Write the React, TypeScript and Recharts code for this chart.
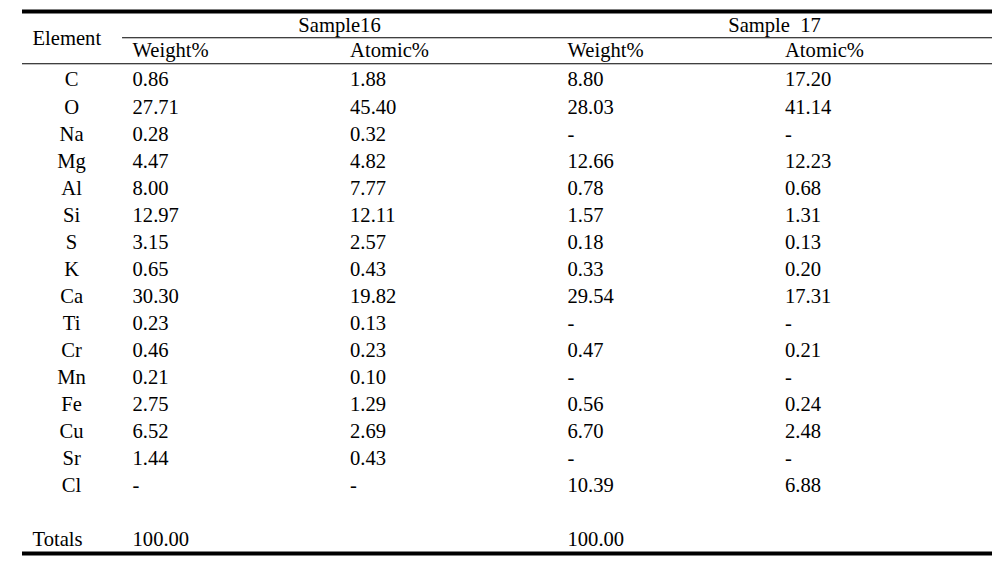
import { ScatterChart, Scatter, XAxis, YAxis, ReferenceLine } from 'recharts'

// table contents
const elements = ['C', 'O', 'Na', 'Mg', 'Al', 'Si', 'S', 'K', 'Ca', 'Ti', 'Cr', 'Mn', 'Fe', 'Cu', 'Sr', 'Cl']
const s16Weight = [0.86, 27.71, 0.28, 4.47, 8.0, 12.97, 3.15, 0.65, 30.3, 0.23, 0.46, 0.21, 2.75, 6.52, 1.44, null]
const s16Atomic = [1.88, 45.4, 0.32, 4.82, 7.77, 12.11, 2.57, 0.43, 19.82, 0.13, 0.23, 0.1, 1.29, 2.69, 0.43, null]
const s17Weight = [8.8, 28.03, null, 12.66, 0.78, 1.57, 0.18, 0.33, 29.54, null, 0.47, null, 0.56, 6.7, null, 10.39]
const s17Atomic = [17.2, 41.14, null, 12.23, 0.68, 1.31, 0.13, 0.2, 17.31, null, 0.21, null, 0.24, 2.48, null, 6.88]
const totals = [100.0, null, 100.0, null]

const samples = ['Sample16', 'Sample  17']
const subHeaders = ['Weight%', 'Atomic%', 'Weight%', 'Atomic%']
const elementHeader = 'Element'
const totalsLabel = 'Totals'

// x: column index (0..3 are value columns, element column sits left of 0)
// y: row index (0 = first element row)
const ELEMENT_X = -0.232
const LEFT_EDGE = -0.46
const TOTALS_ROW = elements.length + 1

type Cell = { x: number; y: number; text: string; anchor: 'start' | 'middle' }

const fmt = (v: number | null) => (v === null ? '-' : v.toFixed(2))

const valueColumns = [s16Weight, s16Atomic, s17Weight, s17Atomic]

const bodyCells: Cell[] = [
  ...elements.map((e, i) => ({ x: ELEMENT_X, y: i, text: e, anchor: 'middle' as const })),
  ...valueColumns.flatMap((col, c) =>
    col.map((v, i) => ({ x: c, y: i, text: fmt(v), anchor: 'start' as const }))
  ),
  { x: LEFT_EDGE, y: TOTALS_ROW, text: totalsLabel, anchor: 'start' },
  ...totals
    .map((v, c) => ({ x: c, y: TOTALS_ROW, text: v === null ? '' : v.toFixed(2), anchor: 'start' as const }))
    .filter((d) => d.text !== ''),
]

const headerCells: Cell[] = [
  { x: LEFT_EDGE, y: -1.55, text: elementHeader, anchor: 'start' },
  ...samples.map((s, i) => ({ x: 1 + i * 2, y: -2.02, text: s, anchor: 'middle' as const })),
  ...subHeaders.map((s, i) => ({ x: i, y: -1.08, text: s, anchor: 'start' as const })),
]

const TextCell = (props: any) => {
  const { cx, cy, payload } = props
  const dx = payload.anchor === 'start' ? 10.5 : 0
  return (
    <text
      x={cx + dx}
      y={cy}
      textAnchor={payload.anchor}
      fontFamily='"Liberation Serif", "Times New Roman", serif'
      fontSize={20.6}
      fill="#000"
      style={{ whiteSpace: 'pre' }}
    >
      {payload.text}
    </text>
  )
}

export default function App() {
  return (
    <ScatterChart width={986} height={552} margin={{ top: 0, right: 2, bottom: 0, left: 14 }}>
      <XAxis type="number" dataKey="x" domain={[LEFT_EDGE, 4]} hide allowDataOverflow />
      <YAxis type="number" dataKey="y" domain={[-2.9, 17.5]} reversed hide allowDataOverflow />
      <ReferenceLine y={-2.77} stroke="#000" strokeWidth={4} />
      <ReferenceLine segment={[{ x: 0, y: -1.8 }, { x: 4, y: -1.8 }]} stroke="#000" strokeWidth={1.2} />
      <ReferenceLine y={-0.84} stroke="#000" strokeWidth={1.2} />
      <ReferenceLine y={17.26} stroke="#000" strokeWidth={4} />
      <Scatter data={headerCells} shape={TextCell} isAnimationActive={false} />
      <Scatter data={bodyCells} shape={TextCell} isAnimationActive={false} />
    </ScatterChart>
  )
}
